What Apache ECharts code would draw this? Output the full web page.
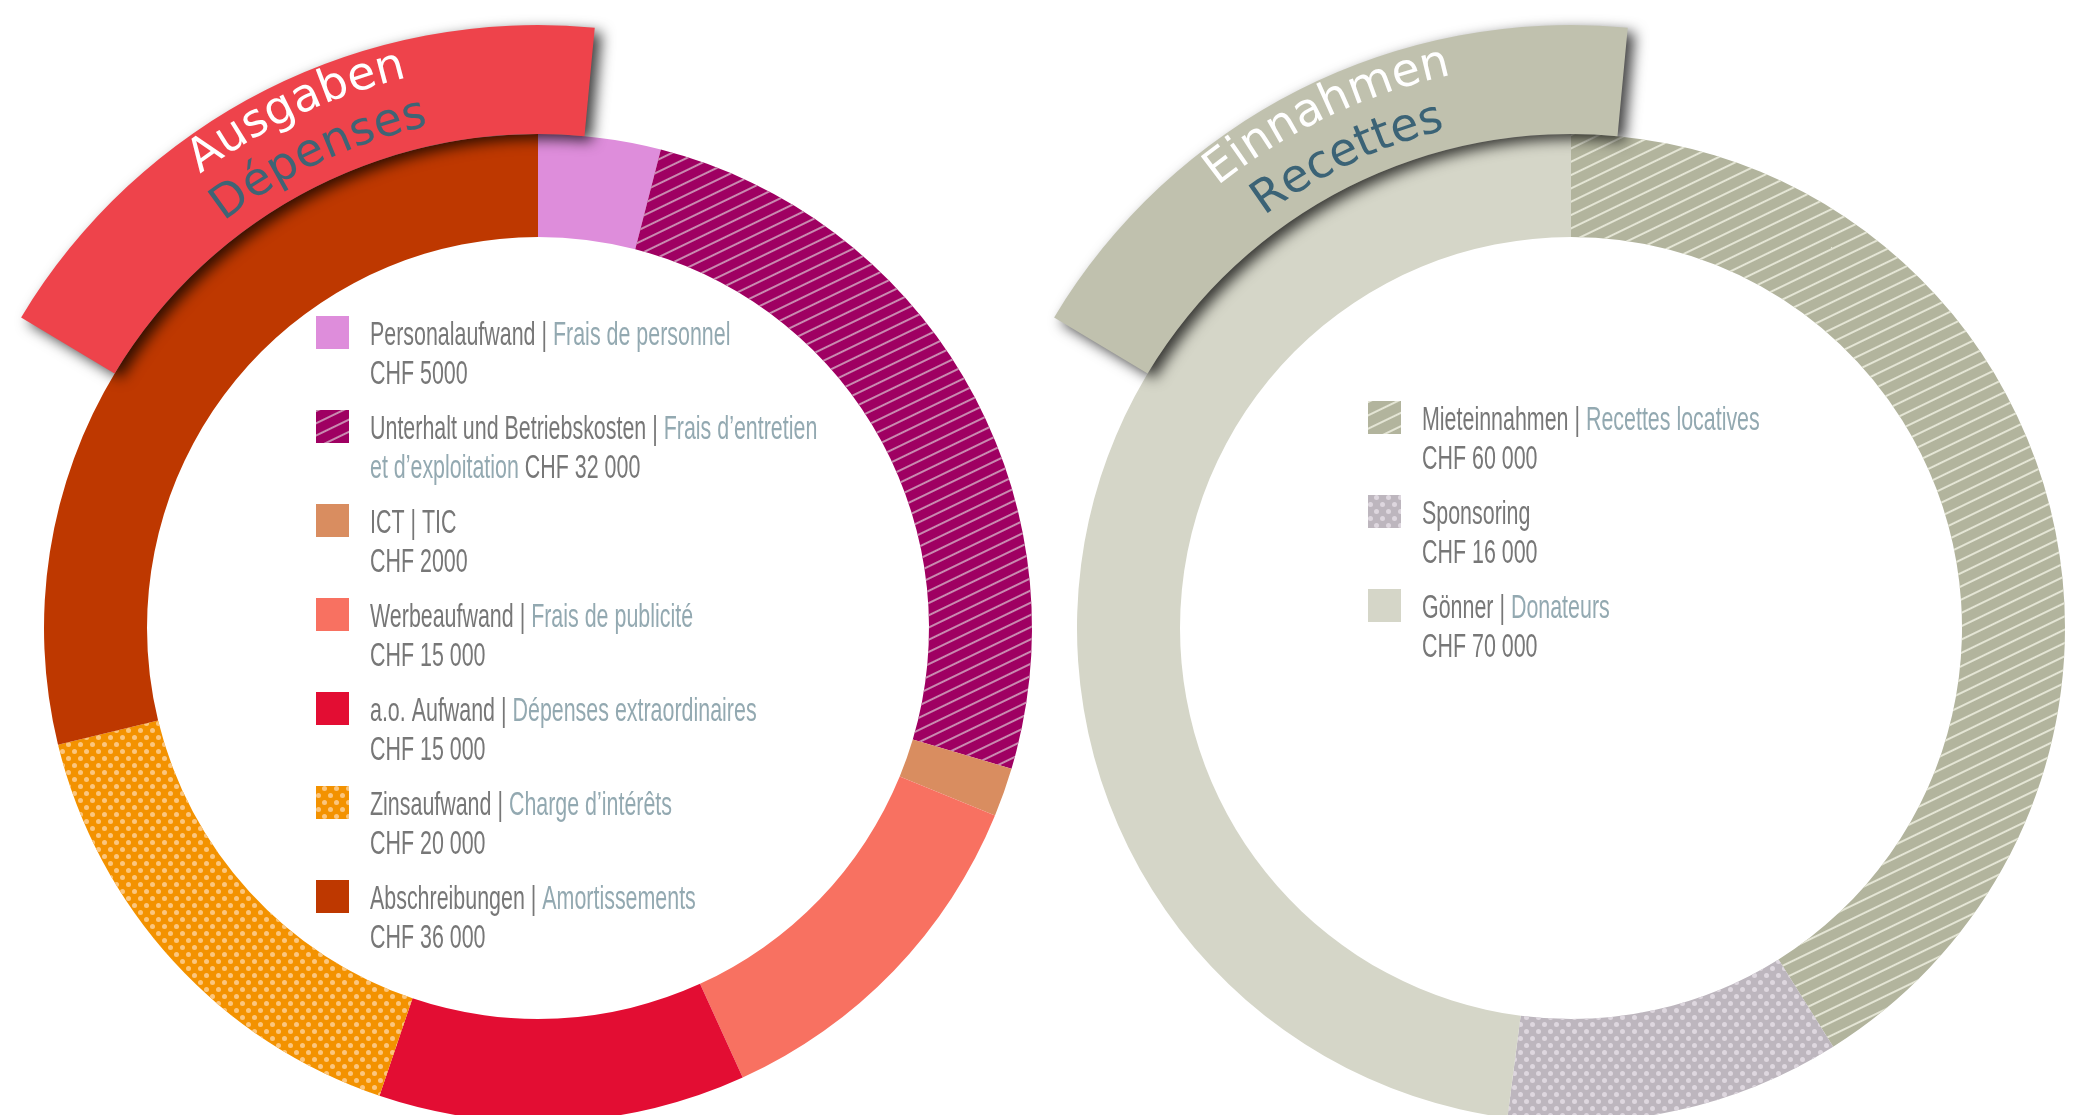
<!DOCTYPE html>
<html><head><meta charset="utf-8">
<script src="https://cdn.jsdelivr.net/npm/echarts@6/dist/echarts.min.js"></script>
<style>html,body{margin:0;padding:0;background:#fff}#c{width:2088px;height:1115px}</style>
</head><body><div id="c"></div>
<script>
// ---- data ----
const expNamesDe = ['Personalaufwand', 'Unterhalt und Betriebskosten', 'ICT', 'Werbeaufwand', 'a.o. Aufwand', 'Zinsaufwand', 'Abschreibungen'];
const expNamesFr = ['Frais de personnel', 'Frais d’entretien\net d’exploitation', 'TIC', 'Frais de publicité', 'Dépenses extraordinaires', 'Charge d’intérêts', 'Amortissements'];
const expValues = [5000, 32000, 2000, 15000, 15000, 20000, 36000];
const incNamesDe = ['Mieteinnahmen', 'Sponsoring', 'Gönner'];
const incNamesFr = ['Recettes locatives', '', 'Donateurs'];
const incValues = [60000, 16000, 70000];
const titles = [['Ausgaben', 'Dépenses'], ['Einnahmen', 'Recettes']];

// ---- styles ----
const stripe = (c, gap) => ({symbol: 'rect', symbolSize: 1, color: c, dashArrayX: [1, 0], dashArrayY: [2, gap], rotation: -0.45});
const dots = c => ({symbol: 'circle', symbolSize: 1, color: c, dashArrayX: [[5, 7], [0, 6, 5, 1]], dashArrayY: [5, 2], rotation: 0});
const expStyles = [
  {color: '#DE8DDB'},
  {color: '#9F0062', decal: stripe('#C98AB0', 9)},
  {color: '#D98D60'},
  {color: '#F87161'},
  {color: '#E30D33'},
  {color: '#F39200', decal: dots('#FBC67E')},
  {color: '#BE3800'}
];
const incStyles = [
  {color: '#B2B49D', decal: stripe('#E4E5D5', 10)},
  {color: '#BDB6BE', decal: dots('#DED7DF')},
  {color: '#D5D6C8'}
];
const FONT = '"Liberation Sans", Arial, sans-serif';
const LH = 39, FS = 34, SX = 0.63;
const ICON = 33, STEP = 94, TEXT_OFF = 54;
const cL = [538, 628], cR = [1571, 628];
const R_IN = 391, R_OUT = 494, BAND_OUT = 603;
const BAND_START = 149, BAND_SWEEP = 64.4;
const legL = [316, 316], legR = [1368, 401];

function fmtVal(v) {
  const s = String(v);
  return 'CHF ' + (v >= 10000 ? s.replace(/\B(?=(\d{3})+(?!\d))/g, ' ') : s);
}
function label(de, fr, v) {
  let out = '{de|' + de + '}';
  if (fr) {
    const st = /^[A-Z]+$/.test(fr) ? 'de' : 'fr';
    const parts = fr.split('\n');
    out += '{de| | }{' + st + '|' + parts[0] + '}';
    if (parts.length > 1) return out + '\n{' + st + '|' + parts[1] + '}{de| ' + fmtVal(v) + '}';
  }
  return out + '\n{de|' + fmtVal(v) + '}';
}
const rich = {
  de: {fill: '#777777', fontFamily: FONT, fontSize: FS, lineHeight: LH},
  fr: {fill: '#93A9B1', fontFamily: FONT, fontSize: FS, lineHeight: LH}
};
function legend(names, pos) {
  return {
    orient: 'vertical', left: pos[0], top: pos[1], padding: 0,
    data: names, icon: 'rect', itemWidth: ICON, itemHeight: ICON, itemGap: STEP - ICON,
    selectedMode: false, itemStyle: {borderWidth: 0},
    formatter: () => '', textStyle: {fontSize: 10, lineHeight: 10}
  };
}
function labels(de, fr, vals, pos) {
  return de.map((d, i) => ({
    type: 'text', x: pos[0] + TEXT_OFF, y: pos[1] + i * STEP + ICON / 2 - LH / 2 + 3, scaleX: SX, z: 50, silent: true,
    style: {text: label(d, fr[i], vals[i]), rich: rich, fontFamily: FONT, fontSize: FS, lineHeight: LH, fill: '#777777', align: 'left', verticalAlign: 'top'}
  }));
}
function donut(center, names, vals, styles) {
  return {
    type: 'pie', center: center, radius: [R_IN, R_OUT], startAngle: 90, clockwise: true,
    label: {show: false}, labelLine: {show: false}, silent: true, z: 2, emphasis: {disabled: true},
    data: names.map((n, i) => ({name: n, value: vals[i], itemStyle: Object.assign({borderWidth: 0}, styles[i])}))
  };
}
function band(center, color) {
  return {
    type: 'pie', center: center, radius: [R_OUT, BAND_OUT], startAngle: BAND_START, clockwise: true,
    label: {show: false}, labelLine: {show: false}, silent: true, z: 3, emphasis: {disabled: true},
    data: [
      {name: 'band_' + color, value: BAND_SWEEP, itemStyle: {color: color, borderWidth: 0, shadowBlur: 14, shadowColor: 'rgba(0,0,0,0.75)', shadowOffsetX: 7, shadowOffsetY: 5}},
      {name: 'rest_' + color, value: 360 - BAND_SWEEP, itemStyle: {color: 'rgba(0,0,0,0)', borderWidth: 0}}
    ]
  };
}
const mctx = document.createElement('canvas').getContext('2d');
function arcText(c, rBase, thetaC, text, color, size) {
  mctx.font = size + 'px "DejaVu Sans"';
  const chars = Array.from(text);
  const widths = chars.map(ch => mctx.measureText(ch).width);
  const total = mctx.measureText(text).width;
  const k = total / widths.reduce((a, b) => a + b, 0);
  const rMid = rBase + 0.346 * size;
  let s = 0;
  return chars.map((ch, i) => {
    const w = widths[i] * k;
    const off = s + w / 2 - total / 2;
    s += w;
    const th = thetaC * Math.PI / 180 - off / rBase;
    return {type: 'text', x: c[0] + rMid * Math.cos(th), y: c[1] - rMid * Math.sin(th), rotation: th - Math.PI / 2,
      z: 100, silent: true,
      style: {text: ch, fill: color, fontSize: size, fontFamily: 'DejaVu Sans', align: 'center', verticalAlign: 'middle'}};
  });
}
const graphics = [].concat(
  arcText(cL, 562, 115.0, titles[0][0], '#FFFFFF', 46),
  arcText(cL, 510, 115.0, titles[0][1], '#3F6475', 46),
  arcText(cR, 562, 115.4, titles[1][0], '#FFFFFF', 46),
  arcText(cR, 510, 115.4, titles[1][1], '#3B6376', 46),
  labels(expNamesDe, expNamesFr, expValues, legL),
  labels(incNamesDe, incNamesFr, incValues, legR)
);
const chart = echarts.init(document.getElementById('c'));
chart.setOption({
  animation: false,
  backgroundColor: '#fff',
  legend: [legend(expNamesDe, legL), legend(incNamesDe, legR)],
  series: [
    donut(cL, expNamesDe, expValues, expStyles),
    donut(cR, incNamesDe, incValues, incStyles),
    band(cL, '#EE434B'),
    band(cR, '#C0C1AE')
  ],
  graphic: {elements: graphics}
});
</script></body></html>
